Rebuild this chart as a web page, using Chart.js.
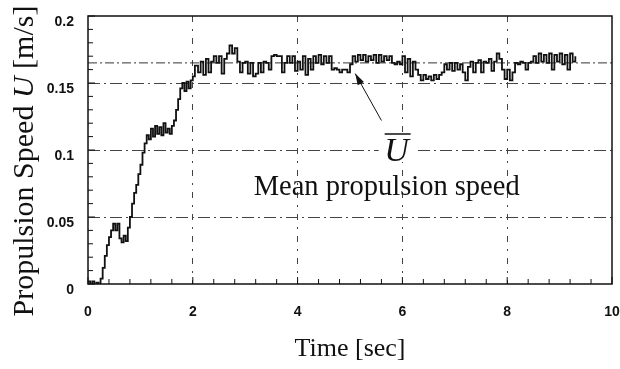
<!DOCTYPE html>
<html>
<head>
<meta charset="utf-8">
<script src="https://cdn.jsdelivr.net/npm/chart.js@4"></script>
<style>
html, body { margin: 0; padding: 0; background: #fff; }
#wrap { width: 620px; height: 369px; }
</style>
</head>
<body>
<div id="wrap"><canvas id="grafica"></canvas></div>
<script>
// Tiempo [sec] y velocidad de propulsión [m/s]
const tiempos = [
    0.00, 0.04, 0.08, 0.12, 0.16, 0.20, 0.24, 0.28, 0.32, 0.36, 0.40, 0.44, 0.48,
    0.52, 0.56, 0.60, 0.64, 0.68, 0.72, 0.76, 0.80, 0.84, 0.88, 0.92, 0.96, 1.00,
    1.04, 1.08, 1.12, 1.16, 1.20, 1.24, 1.28, 1.32, 1.36, 1.40, 1.44, 1.48, 1.52,
    1.56, 1.60, 1.64, 1.68, 1.72, 1.76, 1.80, 1.84, 1.88, 1.92, 1.96, 2.00, 2.04,
    2.10, 2.15, 2.20, 2.25, 2.30, 2.35, 2.40, 2.45, 2.50, 2.55, 2.60, 2.65, 2.70, 2.75, 2.80, 2.85, 2.90, 2.95,
    3.00, 3.05, 3.10, 3.15, 3.20, 3.25, 3.30, 3.35, 3.40, 3.45, 3.50, 3.55, 3.60, 3.65, 3.70, 3.75, 3.80, 3.85, 3.90, 3.95,
    4.00, 4.05, 4.10, 4.15, 4.20, 4.25, 4.30, 4.35, 4.40, 4.45, 4.50, 4.55, 4.60, 4.65, 4.70, 4.75, 4.80, 4.85, 4.90, 4.95,
    5.00, 5.05, 5.10, 5.15, 5.20, 5.25, 5.30, 5.35, 5.40, 5.45, 5.50, 5.55, 5.60, 5.65, 5.70, 5.75, 5.80, 5.85, 5.90, 5.95,
    6.00, 6.05, 6.10, 6.15, 6.20, 6.25, 6.30, 6.35, 6.40, 6.45, 6.50, 6.55, 6.60, 6.65, 6.70, 6.75, 6.80, 6.85, 6.90, 6.95,
    7.00, 7.05, 7.10, 7.15, 7.20, 7.25, 7.30, 7.35, 7.40, 7.45, 7.50, 7.55, 7.60, 7.65, 7.70, 7.75, 7.80, 7.85, 7.90, 7.95,
    8.00, 8.05, 8.10, 8.15, 8.20, 8.25, 8.30, 8.35, 8.40, 8.45, 8.50, 8.55, 8.60, 8.65, 8.70, 8.75, 8.80, 8.85, 8.90, 8.95,
    9.00, 9.05, 9.10, 9.15, 9.20, 9.25, 9.30
];
const velocidades = [
    0.002, -0.003, 0.002, -0.003, 0.001, -0.002, 0.004, 0.012, 0.021, 0.029, 0.035, 0.040, 0.045,
    0.040, 0.045, 0.034, 0.031, 0.036, 0.032, 0.042, 0.050, 0.060, 0.068, 0.074, 0.082, 0.089,
    0.098, 0.105, 0.111, 0.108, 0.116, 0.110, 0.118, 0.112, 0.117, 0.111, 0.120, 0.113, 0.116,
    0.112, 0.118, 0.122, 0.130, 0.138, 0.146, 0.150, 0.144, 0.151, 0.146, 0.152, 0.155, 0.163,
    0.158, 0.166, 0.156, 0.168, 0.158, 0.166, 0.170, 0.165, 0.170, 0.157, 0.168, 0.172, 0.178, 0.172, 0.176, 0.166, 0.158, 0.165,
    0.166, 0.157, 0.165, 0.155, 0.157, 0.165, 0.158, 0.166, 0.165, 0.160, 0.170, 0.171, 0.170, 0.170, 0.158, 0.165, 0.170, 0.165, 0.170, 0.159,
    0.166, 0.160, 0.170, 0.156, 0.168, 0.160, 0.170, 0.165, 0.171, 0.164, 0.170, 0.165, 0.170, 0.160, 0.161, 0.160, 0.158, 0.160, 0.160, 0.158,
    0.164, 0.170, 0.166, 0.171, 0.167, 0.171, 0.166, 0.170, 0.167, 0.171, 0.165, 0.171, 0.166, 0.170, 0.167, 0.170, 0.165, 0.164, 0.166, 0.164,
    0.170, 0.158, 0.168, 0.155, 0.166, 0.160, 0.156, 0.152, 0.156, 0.153, 0.155, 0.152, 0.156, 0.153, 0.156, 0.158, 0.164, 0.160, 0.165, 0.159,
    0.165, 0.160, 0.164, 0.158, 0.152, 0.162, 0.166, 0.158, 0.165, 0.167, 0.158, 0.166, 0.165, 0.168, 0.159, 0.166, 0.172, 0.168, 0.160, 0.153,
    0.160, 0.152, 0.158, 0.165, 0.164, 0.166, 0.165, 0.160, 0.165, 0.166, 0.170, 0.165, 0.172, 0.166, 0.171, 0.165, 0.172, 0.160, 0.171, 0.166,
    0.172, 0.164, 0.171, 0.160, 0.172, 0.166, 0.170
];
const velocidadMedia = 0.165;

// Anotación (en unidades de datos)
const puntaFlecha = { x: 5.10, y: 0.157 };
const colaFlecha = { x: 5.60, y: 0.122 };
const posicionU = { x: 5.89, y: 0.100 };
const posicionTexto = { x: 5.70, y: 0.072 };

const fuenteSerif = '"Liberation Serif", "Times New Roman", serif';
const fuenteTicks = '"Liberation Sans", Arial, sans-serif';

const puntos = tiempos.map((t, i) => ({ x: t, y: velocidades[i] }));

// Marco, ticks menores, título del eje Y y anotación
const decoracion = {
    id: 'decoracion',
    afterDraw(chart) {
        const { ctx, chartArea: a, scales: { x, y } } = chart;
        const linea = (x1, y1, x2, y2) => {
            ctx.beginPath(); ctx.moveTo(x1, y1); ctx.lineTo(x2, y2); ctx.stroke();
        };
        ctx.save();
        ctx.strokeStyle = '#111';
        ctx.lineWidth = 1.5;
        ctx.strokeRect(a.left, a.top, a.right - a.left, a.bottom - a.top);

        ctx.lineWidth = 1;
        for (let i = 0; i <= 20; i++) {
            const py = y.getPixelForValue(i * 0.01);
            linea(a.left, py, a.left + (i % 5 === 0 ? 7 : 5), py);
        }
        for (let i = 0; i <= 25; i++) {
            const px = x.getPixelForValue(i * 0.4);
            linea(px, a.bottom, px, a.bottom - (i % 5 === 0 ? 7 : 5));
        }

        // Título del eje Y con la U en cursiva
        const partes = [
            { t: 'Propulsion Speed ', f: '30px ' + fuenteSerif },
            { t: 'U', f: 'italic 30px ' + fuenteSerif },
            { t: ' [m/s]', f: '30px ' + fuenteSerif }
        ];
        let total = 0;
        partes.forEach(p => { ctx.font = p.f; p.w = ctx.measureText(p.t).width; total += p.w; });
        ctx.translate(25, 161);
        ctx.rotate(-Math.PI / 2);
        ctx.fillStyle = '#111';
        ctx.textBaseline = 'middle';
        ctx.textAlign = 'left';
        let cx = -total / 2;
        partes.forEach(p => { ctx.font = p.f; ctx.fillText(p.t, cx, 0); cx += p.w; });
        ctx.setTransform(1, 0, 0, 1, 0, 0);

        // Flecha hacia la velocidad media
        const x1 = x.getPixelForValue(colaFlecha.x), y1 = y.getPixelForValue(colaFlecha.y);
        const x2 = x.getPixelForValue(puntaFlecha.x), y2 = y.getPixelForValue(puntaFlecha.y);
        ctx.lineWidth = 1;
        linea(x1, y1, x2, y2);
        const ang = Math.atan2(y2 - y1, x2 - x1);
        ctx.beginPath();
        ctx.moveTo(x2, y2);
        ctx.lineTo(x2 - 12 * Math.cos(ang - 0.3), y2 - 12 * Math.sin(ang - 0.3));
        ctx.lineTo(x2 - 12 * Math.cos(ang + 0.3), y2 - 12 * Math.sin(ang + 0.3));
        ctx.closePath();
        ctx.fill();

        // U con barra
        const ux = x.getPixelForValue(posicionU.x), uy = y.getPixelForValue(posicionU.y);
        ctx.font = 'italic 34px ' + fuenteSerif;
        ctx.textAlign = 'center';
        ctx.textBaseline = 'middle';
        ctx.fillStyle = '#fff';
        ctx.fillRect(ux - 18, uy - 12, 36, 24);
        ctx.fillStyle = '#111';
        ctx.fillText('U', ux, uy + 2);
        ctx.lineWidth = 1.5;
        linea(ux - 12, uy - 16, ux + 14, uy - 16);

        ctx.font = '28.5px ' + fuenteSerif;
        ctx.fillText('Mean propulsion speed',
            x.getPixelForValue(posicionTexto.x), y.getPixelForValue(posicionTexto.y));
        ctx.restore();
    }
};

const colorGrid = (max) => c => {
    const v = c.tick ? c.tick.value : 0;
    return (Math.abs(v) < 1e-9 || Math.abs(v - max) < 1e-9) ? 'rgba(0,0,0,0)' : '#444';
};

new Chart(document.getElementById('grafica'), {
    type: 'line',
    data: {
        datasets: [{
            label: 'U',
            data: puntos,
            borderColor: '#111',
            borderWidth: 1.8,
            pointRadius: 0,
            stepped: true,
            fill: false
        }, {
            label: 'Media',
            data: [{ x: 0, y: velocidadMedia }, { x: 10, y: velocidadMedia }],
            borderColor: '#333',
            borderWidth: 1,
            borderDash: [9, 3, 2, 3],
            pointRadius: 0
        }]
    },
    options: {
        responsive: true,
        maintainAspectRatio: false,
        animation: false,
        devicePixelRatio: 1,
        layout: { padding: { left: 0, right: 8, top: 16, bottom: 0 } },
        plugins: {
            legend: { display: false },
            tooltip: { enabled: false }
        },
        scales: {
            x: {
                type: 'linear',
                min: 0,
                max: 10,
                afterFit: s => { s.height = 85; s.paddingLeft = 0; s.paddingRight = 0; },
                ticks: {
                    stepSize: 2,
                    padding: 20,
                    color: '#111',
                    font: { family: fuenteTicks, size: 14, weight: 'bold' }
                },
                grid: { color: colorGrid(10), lineWidth: 1, drawTicks: false },
                border: { display: false, dash: [6, 7, 2, 7] },
                title: {
                    display: true,
                    text: 'Time [sec]',
                    color: '#111',
                    font: { family: fuenteSerif, size: 26 },
                    padding: { top: 0, bottom: 4 }
                }
            },
            y: {
                min: 0,
                max: 0.2,
                afterFit: s => { s.width = 88; s.paddingTop = 0; s.paddingBottom = 0; },
                ticks: {
                    stepSize: 0.05,
                    padding: 14,
                    labelOffset: 6,
                    color: '#111',
                    font: { family: fuenteTicks, size: 14, weight: 'bold' },
                    callback: v => String(+v.toFixed(2))
                },
                grid: { color: colorGrid(0.2), lineWidth: 1, drawTicks: false },
                border: { display: false, dash: [12, 4, 2, 4] }
            }
        }
    },
    plugins: [decoracion]
});
</script>
</body>
</html>
